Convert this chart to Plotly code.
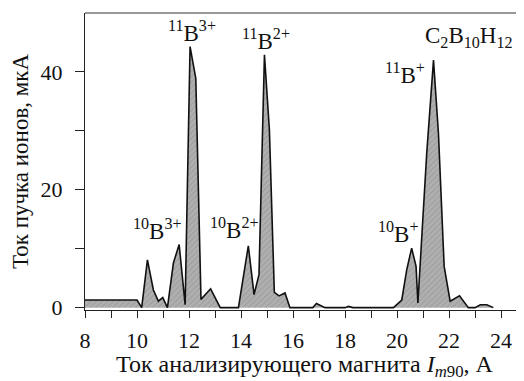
import plotly.graph_objects as go

# Ion beam current vs analysing magnet current
x_current = [8.0, 10.0, 10.18, 10.4, 10.63, 10.82, 10.99, 11.17, 11.4, 11.62, 11.85, 12.04, 12.26,
             12.46, 12.83, 13.2, 13.9, 14.28, 14.5, 14.69, 14.9, 15.09, 15.28, 15.46, 15.69, 15.88,
             16.76, 16.9, 17.23, 18.0, 18.13, 18.3, 19.86, 20.18, 20.37, 20.56, 20.73, 20.8, 21.14,
             21.4, 21.59, 21.81, 22.04, 22.4, 22.74, 23.0, 23.2, 23.45, 23.7]
beam_current = [1.3, 1.3, 0.0, 8.1, 3.0, 1.1, 1.7, 0.0, 7.6, 10.7, 0.5, 44.3, 38.9,
                1.4, 3.2, 0.0, 0.0, 10.5, 2.2, 5.6, 42.9, 30.2, 2.6, 2.0, 2.5, 0.0,
                0.0, 0.7, 0.0, 0.0, 0.2, 0.0, 0.0, 1.3, 6.4, 10.1, 7.0, 0.8, 26.2,
                42.0, 29.6, 7.0, 1.1, 2.0, 0.0, 0.0, 0.5, 0.5, 0.0]

peak_labels = ["<sup>11</sup>B<sup>3+</sup>", "<sup>11</sup>B<sup>2+</sup>", "C<sub>2</sub>B<sub>10</sub>H<sub>12</sub>",
               "<sup>11</sup>B<sup>+</sup>", "<sup>10</sup>B<sup>3+</sup>", "<sup>10</sup>B<sup>2+</sup>",
               "<sup>10</sup>B<sup>+</sup>"]
label_x = [12.12, 14.96, 22.75, 20.31, 10.77, 13.73, 20.04]
label_y = [46.9, 45.5, 46.0, 39.8, 13.3, 13.4, 12.7]

FONT = "Liberation Serif, Times New Roman, serif"

fig = go.Figure()
fig.add_trace(go.Scatter(
    x=x_current, y=beam_current, mode="lines",
    line=dict(color="#111111", width=1.6),
    fill="tozeroy",
    fillcolor="#adadad",
    fillpattern=dict(shape="/", bgcolor="#b0b0b0", fgcolor="#8c8c8c", size=4, solidity=0.3),
    showlegend=False,
))

for t, ax, ay in zip(peak_labels, label_x, label_y):
    fig.add_annotation(x=ax, y=ay, text=t, showarrow=False,
                       font=dict(family=FONT, size=23, color="#111111"),
                       xanchor="center", yanchor="middle")

fig.add_shape(type="line", xref="paper", yref="paper", x0=0, x1=1, y0=1, y1=1,
              line=dict(color="#333333", width=1.2))

# page body has an 8px margin; the figure is sized so the plot lands where the reference has it
fig.update_layout(
    width=516, height=373,
    margin=dict(l=77, r=0, t=5, b=71, autoexpand=False),
    paper_bgcolor="white", plot_bgcolor="white",
    font=dict(family=FONT, size=22, color="#111111"),
    xaxis=dict(
        range=[8, 24.88], tickmode="array", tickvals=[8, 10, 12, 14, 16, 18, 20, 22, 24],
        ticks="outside", ticklen=7, tickwidth=1.2, tickcolor="#222222",
        minor=dict(tickmode="array", tickvals=[9, 11, 13, 15, 17, 19, 21, 23], ticks="outside",
                   ticklen=7, tickwidth=1.2, tickcolor="#222222"),
        showline=True, linecolor="#222222", linewidth=1.2, showgrid=False, zeroline=False,
        automargin=False, ticklabelstandoff=3,
        title=dict(text="Ток анализирующего магнита <i>I</i><sub><i>m</i>90</sub>, А",
                   font=dict(family=FONT, size=24), standoff=0),
        tickfont=dict(family=FONT, size=22),
    ),
    yaxis=dict(
        range=[-0.4, 50], tickmode="array", tickvals=[0, 20, 40],
        ticks="outside", ticklen=9, tickwidth=1.2, tickcolor="#222222",
        minor=dict(tickmode="array", tickvals=[10, 30], ticks="outside",
                   ticklen=9, tickwidth=1.2, tickcolor="#222222"),
        showline=True, linecolor="#222222", linewidth=1.2, showgrid=False, zeroline=False,
        automargin=False, ticklabelstandoff=8,
        title=dict(text="Ток пучка ионов, мкА", font=dict(family=FONT, size=23), standoff=13),
        tickfont=dict(family=FONT, size=22),
    ),
)

fig.write_html("out.html")
